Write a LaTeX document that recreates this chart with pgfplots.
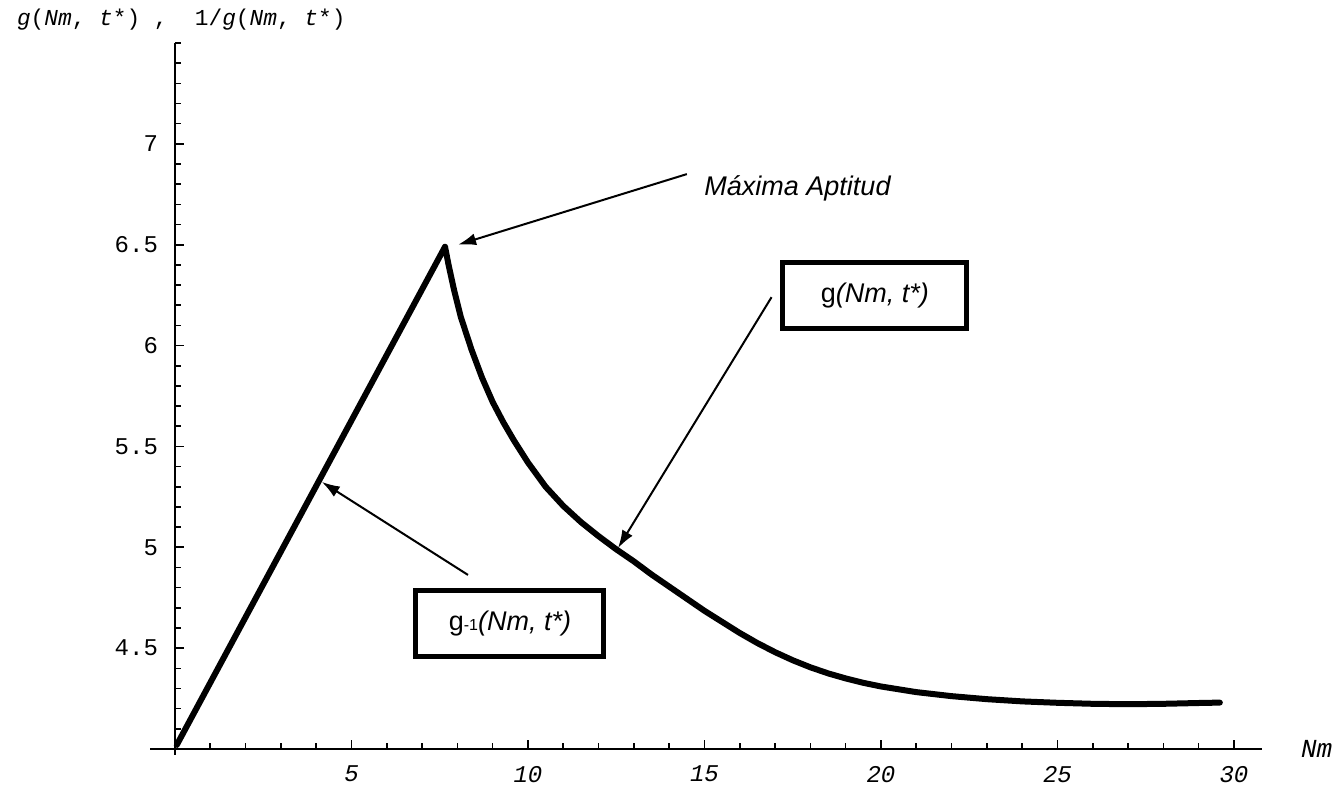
\documentclass[border=0pt]{standalone}
\usepackage{fontspec}
\setmainfont{Liberation Sans}
\newfontfamily\cour{Liberation Mono}
\usepackage{pgfplots}
\pgfplotsset{compat=1.18}
\usetikzlibrary{arrows.meta}
\begin{document}
\begin{tikzpicture}
\begin{axis}[
  at={(0,0)}, anchor=south west,
  scale only axis, width=543.6pt, height=353pt,
  xmin=0, xmax=30.8, ymin=4, ymax=7.5,
  axis lines*=left,
  axis line style={line width=1pt},
  xtick={5,10,15,20,25,30},
  ytick={4.5,5,5.5,6,6.5,7},
  yticklabels={4.5,5,5.5,6,6.5,7},
  minor xtick={1,2,...,30},
  minor ytick={4.1,4.2,4.3,4.4,4.6,4.7,4.8,4.9,5.1,5.2,5.3,5.4,5.6,5.7,5.8,5.9,6.1,6.2,6.3,6.4,6.6,6.7,6.8,6.9,7.1,7.2,7.3,7.4,7.5},
  tick align=inside,
  major tick length=4.5pt, minor tick length=3pt,
  every tick/.style={black, line width=0.8pt},
  /pgf/number format/assume math mode=true,
  xticklabel style={font=\cour\fontsize{12}{12}\selectfont\itshape, yshift=-5pt},
  yticklabel style={font=\cour\fontsize{12}{12}\selectfont, xshift=-5pt},
  clip=false,
]
\addplot[black, line width=3pt, line join=round, line cap=round] coordinates {
  (0.05,4.02) (7.65,6.49)
  (7.75,6.40) (7.9,6.28) (8.1,6.14) (8.4,5.98) (8.7,5.84) (9.0,5.72)
  (9.3,5.62) (9.6,5.53) (10,5.42) (10.5,5.3) (11,5.205) (11.5,5.125)
  (12,5.055) (12.5,4.99) (13,4.93) (13.5,4.865) (14,4.805) (14.5,4.745) (15,4.685)
  (15.5,4.63) (16,4.575) (16.5,4.525) (17,4.48) (17.5,4.44) (18,4.405) (18.5,4.375)
  (19,4.35) (19.5,4.328) (20,4.31) (21,4.282) (22,4.262)
  (23,4.247) (24,4.236) (25,4.229) (26,4.224) (27,4.222) (28,4.224) (29,4.228) (29.6,4.23)
};
\draw[line width=1pt] (axis cs:-0.7,4) -- (axis cs:0,4);
\draw[line width=1pt] (axis cs:0,4) -- (axis cs:0,3.97);
\node[anchor=west, font=\cour\fontsize{13}{13}\selectfont\itshape] at (axis cs:31.7,4.0) {Nm};
% annotations
\node[anchor=west, font=\fontsize{13.5}{14}\selectfont\itshape] at (axis cs:14.8,6.78) {Máxima Aptitud};
\draw[line width=1pt, -{Latex[length=9pt,width=6pt]}] (axis cs:14.5,6.85) -- (axis cs:8.02,6.5);
\node[draw, line width=2.5pt, minimum width=92pt, minimum height=33pt, font=\fontsize{13.5}{14}\selectfont] at (axis cs:19.83,6.247) {g\textit{(Nm, t*)}};
\draw[line width=1pt, -{Latex[length=9pt,width=6pt]}] (axis cs:16.9,6.24) -- (axis cs:12.55,4.996);
\node[draw, line width=2.5pt, minimum width=94pt, minimum height=33pt, font=\fontsize{13.5}{14}\selectfont] at (axis cs:9.49,4.62) {g{\fontsize{8}{8}\selectfont -1}\textit{(Nm, t*)}};
\draw[line width=1pt, -{Latex[length=9pt,width=6pt]}] (axis cs:8.3,4.863) -- (axis cs:4.16,5.324);
\end{axis}
\node[anchor=west, font=\cour\fontsize{11.4}{12}\selectfont] at (-82.5pt,364.5pt) {\textit{g}(\textit{Nm},~\textit{t}*)~,~~1/\textit{g}(\textit{Nm},~\textit{t}*)};
\pgfresetboundingbox
\path[use as bounding box] (-87.5pt,-21.5pt) rectangle (584.5pt,374.5pt);
\end{tikzpicture}
\end{document}
